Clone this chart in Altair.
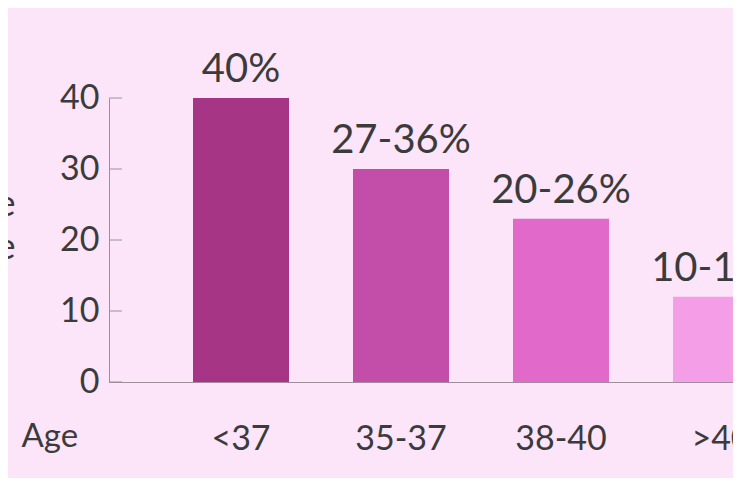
import altair as alt
import pandas as pd

categories = ["<37", "35-37", "38-40", ">40"]
values = [40, 30, 23, 12]
labels = ["40%", "27-36%", "20-26%", "10-13%"]
colors = ["#a73586", "#c34ea9", "#e169c9", "#f59ee8"]
y_ticks = [0, 10, 20, 30, 40]
y_title = ["Cumulative live", "birth rate"]
x_title = "Age"

df = pd.DataFrame({"age": categories, "value": values, "label": labels})
ticks_df = pd.DataFrame({"value": y_ticks})

FONT = "Lato"
TEXT = "#3b3b3b"
AXIS = "#9c8e9b"
BG = "#fde5f9"

xscale = alt.Scale(domain=categories, range=[0, 744], paddingInner=0.4, paddingOuter=0.525)
yscale = alt.Scale(domain=[0, 40])

x_enc = alt.X(
    "age:N", sort=categories, scale=xscale,
    axis=alt.Axis(
        title=x_title, labelAngle=0, ticks=False, tickSize=0, labelPadding=67,
        labelBaseline="alphabetic", labelFontSize=34, labelColor=TEXT, labelFont=FONT,
        titleFont=FONT, titleFontSize=33, titleFontWeight="normal", titleColor=TEXT,
        titleX=-88, titleY=64, titleAlign="left", titleBaseline="alphabetic",
        domainColor=AXIS, domainWidth=1,
    ),
)

y_enc = alt.Y(
    "value:Q", scale=yscale,
    axis=alt.Axis(
        values=y_ticks, grid=False, ticks=False, tickSize=0, labelPadding=10,
        labelFontSize=34, labelColor=TEXT, labelFont=FONT, labelBaseline="middle",
        title=y_title, titleAngle=0, titleAlign="right", titleBaseline="top",
        titleX=-94, titleY=89, titleLineHeight=43, titleFont=FONT, titleFontSize=36,
        titleFontWeight="normal", titleColor=TEXT, domainColor=AXIS, domainWidth=1,
    ),
)

bars = alt.Chart(df).mark_bar().encode(
    x=x_enc,
    y=y_enc,
    color=alt.Color("age:N", scale=alt.Scale(domain=categories, range=colors), legend=None),
)

text = alt.Chart(df).mark_text(
    dy=-16, baseline="alphabetic", align="center", font=FONT, fontSize=40, color=TEXT
).encode(
    x=x_enc,
    y=y_enc,
    text="label:N",
)

tick_rules = alt.Chart(ticks_df).mark_rule(color=AXIS, strokeWidth=1).encode(
    y=y_enc,
    x=alt.value(0),
    x2=alt.value(13),
)

chart = alt.layer(bars, text, tick_rules).properties(
    width=624,
    height=284,
    autosize=alt.AutoSizeParams(type="none"),
    padding={"left": 101, "top": 90, "right": 0, "bottom": 96},
    background=BG,
).configure_view(stroke=None)

chart.save("out.html", embed_options={"renderer": "svg", "actions": False})
